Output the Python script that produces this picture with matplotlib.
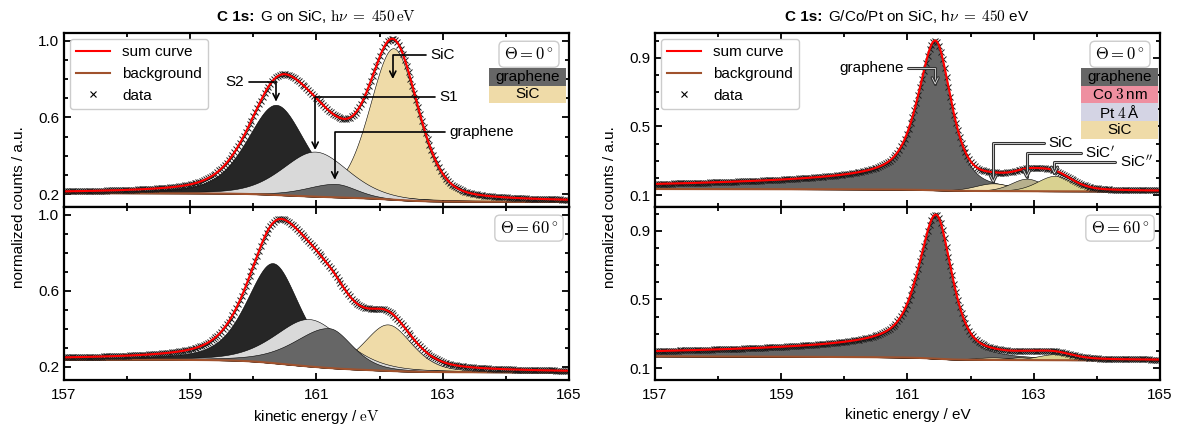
import numpy as np
import matplotlib
matplotlib.use('Agg')
import matplotlib.pyplot as plt
import matplotlib.patheffects as pe
from matplotlib.lines import Line2D
from matplotlib.patches import Rectangle
from matplotlib.ticker import MultipleLocator
from matplotlib.offsetbox import TextArea, HPacker, AnchoredOffsetbox

plt.rcParams['font.family'] = ['Liberation Sans', 'DejaVu Sans']
plt.rcParams['mathtext.fontset'] = 'cm'
plt.rcParams['font.size'] = 11

# kinetic energy window / eV
e_min, e_max = 157.0, 165.0
energy_data = np.arange(e_min, e_max + 1e-6, 0.03)
energy_fit = np.linspace(e_min, e_max, 1600)

# fit components: centre, height, left/right half width, lorentz fraction, tail
# G on SiC (S2, S1, graphene, SiC)
center_gs_0 = [160.36, 160.98, 161.30, 162.22]
height_gs_0 = [0.47, 0.235, 0.07, 0.79]
hwl_gs_0 = [0.55, 0.62, 0.55, 0.45]
hwr_gs_0 = [0.55, 0.62, 0.40, 0.45]
eta_gs_0 = [0.45, 0.35, 0.35, 0.3]
bg_gs_0 = [0.205, 0.160]

center_gs_60 = [160.31, 160.89, 161.20, 162.13]
height_gs_60 = [0.527, 0.25, 0.21, 0.245]
hwl_gs_60 = [0.50, 0.65, 0.65, 0.45]
hwr_gs_60 = [0.50, 0.65, 0.43, 0.45]
eta_gs_60 = [0.5, 0.4, 0.4, 0.4]
bg_gs_60 = [0.238, 0.170]

# G/Co/Pt on SiC (graphene, SiC, SiC', SiC'')
center_gcp_0 = [161.44, 162.36, 162.89, 163.33]
height_gcp_0 = [0.87, 0.045, 0.073, 0.09]
hwl_gcp_0 = [0.31, 0.35, 0.30, 0.33]
hwr_gcp_0 = [0.30, 0.35, 0.30, 0.33]
eta_gcp_0 = [0.6, 0.3, 0.3, 0.3]
tail_gcp_0 = [0.11, 0.0, 0.0, 0.0]
bg_gcp_0 = [0.135, 0.121]

center_gcp_60 = [161.45, 162.36, 162.89, 163.33]
height_gcp_60 = [0.84, 0.015, 0.02, 0.035]
hwl_gcp_60 = [0.31, 0.35, 0.30, 0.33]
hwr_gcp_60 = [0.30, 0.35, 0.30, 0.33]
eta_gcp_60 = [0.6, 0.3, 0.3, 0.3]
tail_gcp_60 = [0.12, 0.0, 0.0, 0.0]
bg_gcp_60 = [0.168, 0.145]

tail_length = 3.5

colors_gs = ['#262626', '#d9d9d9', '#666666', '#efdba8']
colors_gcp = ['#666666', '#efdfb0', '#b7b08d', '#d9d190']
# painting order of the filled components (back to front)
order_gs = [3, 0, 1, 2]
order_gcp = [0, 1, 2, 3]


def line_shape(x, c, h, wl, wr, eta, tail=0.0):
    d = x - c
    w = np.where(d < 0, wl, wr)
    u = (d / w) ** 2
    y = (1 - eta) * np.exp(-np.log(2) * u) + eta / (1 + u)
    # asymmetric tail towards lower kinetic energy
    y += np.where(d < 0, tail * np.exp(d / tail_length) * (1 - np.exp(-(d / wl) ** 2)), 0.0)
    return h * y


def shirley(peaks, b_left, b_right):
    area = np.cumsum(peaks[::-1])[::-1]
    return b_right + (b_left - b_right) * area / area[0]


def model(x, centers, heights, hwl, hwr, eta, tails, bg_ends):
    comps = [line_shape(x, *p) for p in zip(centers, heights, hwl, hwr, eta, tails)]
    total = np.sum(comps, axis=0)
    bg = shirley(total, *bg_ends)
    return comps, bg, total


def draw_spectrum(ax, colors, order, centers, heights, hwl, hwr, eta, bg_ends, tails=None):
    if tails is None:
        tails = [0.0] * len(centers)
    comps, bg, total = model(energy_fit, centers, heights, hwl, hwr, eta, tails, bg_ends)
    for i in order:
        ax.fill_between(energy_fit, bg, bg + comps[i], facecolor=colors[i], edgecolor='k', lw=0.4)
    ax.plot(energy_fit, bg, color='sienna', lw=1.5)
    _, bg_d, total_d = model(energy_data, centers, heights, hwl, hwr, eta, tails, bg_ends)
    ax.plot(energy_data, bg_d + total_d, 'x', color='#1a1a1a', ms=4.5, mew=0.7)
    ax.plot(energy_fit, bg + total, color='red', lw=1.5)


def style_axes(ax, major, ylim, show_x):
    ax.set_xlim(e_min, e_max)
    ax.set_ylim(*ylim)
    ax.set_xticks([157, 159, 161, 163, 165])
    ax.xaxis.set_minor_locator(MultipleLocator(1))
    ax.set_yticks(major)
    ax.yaxis.set_minor_locator(MultipleLocator(0.1))
    ax.tick_params(which='both', direction='in', top=True, right=True, width=1.3)
    ax.tick_params(which='major', length=5, labelsize=11)
    ax.tick_params(which='minor', length=3)
    ax.tick_params(axis='x', labelbottom=show_x, pad=6)
    for s in ax.spines.values():
        s.set_linewidth(1.6)


def add_legend(ax):
    handles = [Line2D([], [], color='red', lw=1.5, label='sum curve'),
               Line2D([], [], color='sienna', lw=1.5, label='background'),
               Line2D([], [], color='k', ls='none', marker='x', ms=5, mew=0.8, label='data')]
    ax.legend(handles=handles, loc='upper left', fancybox=True, edgecolor='#cccccc',
              framealpha=1, borderaxespad=0.4, handlelength=2.2, fontsize=11)


def theta_box(ax, text):
    ax.text(0.921, 0.878, text, transform=ax.transAxes, ha='center', va='center',
            fontsize=12, bbox=dict(boxstyle='round,pad=0.3', fc='white', ec='#cccccc', lw=1))


def label_boxes(ax, labels, colors, x0, top, w=0.152, h=0.101):
    for i, (lab, col) in enumerate(zip(labels, colors)):
        y0 = top - (i + 1) * h
        ax.add_patch(Rectangle((x0, y0), w, h, transform=ax.transAxes, fc=col, ec='none', zorder=5))
        ax.text(x0 + w / 2, y0 + h / 2, lab, transform=ax.transAxes, ha='center', va='center',
                fontsize=11, zorder=6)


def mark_peak(ax, label, xy, xytext, ha, white=False):
    props = dict(arrowstyle='->', lw=1.2, color='k', shrinkA=1, shrinkB=0,
                 connectionstyle='angle,angleA=0,angleB=90,rad=0')
    if white:
        props.update(color='white', lw=0.5,
                     path_effects=[pe.withStroke(linewidth=2.2, foreground='#333333')])
    ax.annotate(label, xy=xy, xytext=xytext, ha=ha, va='center', fontsize=11,
                arrowprops=props)


def panel_title(ax, rest):
    bold = TextArea('C 1s:', textprops=dict(fontweight='bold', fontsize=11))
    normal = TextArea(rest, textprops=dict(fontsize=11))
    box = HPacker(children=[bold, normal], sep=4, align='baseline', pad=0)
    anchored = AnchoredOffsetbox(loc='lower center', child=box, frameon=False, pad=0,
                                 borderpad=0.55, bbox_to_anchor=(0.5, 1.0),
                                 bbox_transform=ax.transAxes)
    ax.add_artist(anchored)


fig = plt.figure(figsize=(11.82, 4.25), dpi=100)
ax_l0 = fig.add_axes([0.0541, 0.5129, 0.4272, 0.4094])
ax_l60 = fig.add_axes([0.0541, 0.1059, 0.4272, 0.4070])
ax_r0 = fig.add_axes([0.5541, 0.5129, 0.4272, 0.4094])
ax_r60 = fig.add_axes([0.5541, 0.1059, 0.4272, 0.4070])

# left column: G on SiC
draw_spectrum(ax_l0, colors_gs, order_gs, center_gs_0, height_gs_0, hwl_gs_0, hwr_gs_0,
              eta_gs_0, bg_gs_0)
draw_spectrum(ax_l60, colors_gs, order_gs, center_gs_60, height_gs_60, hwl_gs_60, hwr_gs_60,
              eta_gs_60, bg_gs_60)
style_axes(ax_l0, [0.2, 0.6, 1.0], (0.133, 1.04), False)
style_axes(ax_l60, [0.2, 0.6, 1.0], (0.13, 1.042), True)

mark_peak(ax_l0, 'S2', (160.36, 0.683), (159.86, 0.787), 'right')
mark_peak(ax_l0, 'S1', (160.98, 0.43), (162.95, 0.707), 'left')
mark_peak(ax_l0, 'SiC', (162.21, 0.80), (162.80, 0.925), 'left')
mark_peak(ax_l0, 'graphene', (161.29, 0.275), (163.10, 0.523), 'left')

# right column: G/Co/Pt on SiC
draw_spectrum(ax_r0, colors_gcp, order_gcp, center_gcp_0, height_gcp_0, hwl_gcp_0, hwr_gcp_0,
              eta_gcp_0, bg_gcp_0, tail_gcp_0)
draw_spectrum(ax_r60, colors_gcp, order_gcp, center_gcp_60, height_gcp_60, hwl_gcp_60, hwr_gcp_60,
              eta_gcp_60, bg_gcp_60, tail_gcp_60)
style_axes(ax_r0, [0.1, 0.5, 0.9], (0.03, 1.045), False)
style_axes(ax_r60, [0.1, 0.5, 0.9], (0.03, 1.04), True)

mark_peak(ax_r0, 'graphene', (161.44, 0.744), (160.95, 0.84), 'right', white=True)
mark_peak(ax_r0, 'SiC', (162.36, 0.174), (163.23, 0.405), 'left', white=True)
mark_peak(ax_r0, r'SiC$^\prime$', (162.89, 0.203), (163.81, 0.345), 'left', white=True)
mark_peak(ax_r0, r'SiC$^{\prime\prime}$', (163.33, 0.223), (164.36, 0.294), 'left', white=True)

for ax in (ax_l0, ax_r0):
    add_legend(ax)
    theta_box(ax, r'$\Theta = 0^\circ$')
for ax in (ax_l60, ax_r60):
    theta_box(ax, r'$\Theta = 60^\circ$')

label_boxes(ax_l0, ['graphene', 'SiC'], ['#666666', '#efdba8'], 0.842, 0.799)
label_boxes(ax_r0, ['graphene', r'Co $3\,$nm', r'Pt $4\,$Å', 'SiC'],
            ['#666666', '#ee8fa0', '#d4d4e4', '#efdba8'], 0.844, 0.797)

panel_title(ax_l0, r'G on SiC, $\mathrm{h}\nu\;=\;450\,\mathrm{eV}$')
panel_title(ax_r0, r'G/Co/Pt on SiC, h$\nu\;=\;450$ eV')

ax_l60.set_xlabel(r'kinetic energy / $\mathrm{eV}$', fontsize=11)
ax_r60.set_xlabel('kinetic energy / eV', fontsize=11)
fig.text(0.016, 0.513, 'normalized counts / a.u.', rotation=90, ha='center', va='center', fontsize=11)
fig.text(0.516, 0.513, 'normalized counts / a.u.', rotation=90, ha='center', va='center', fontsize=11)

fig.savefig('out.png', dpi=100)
